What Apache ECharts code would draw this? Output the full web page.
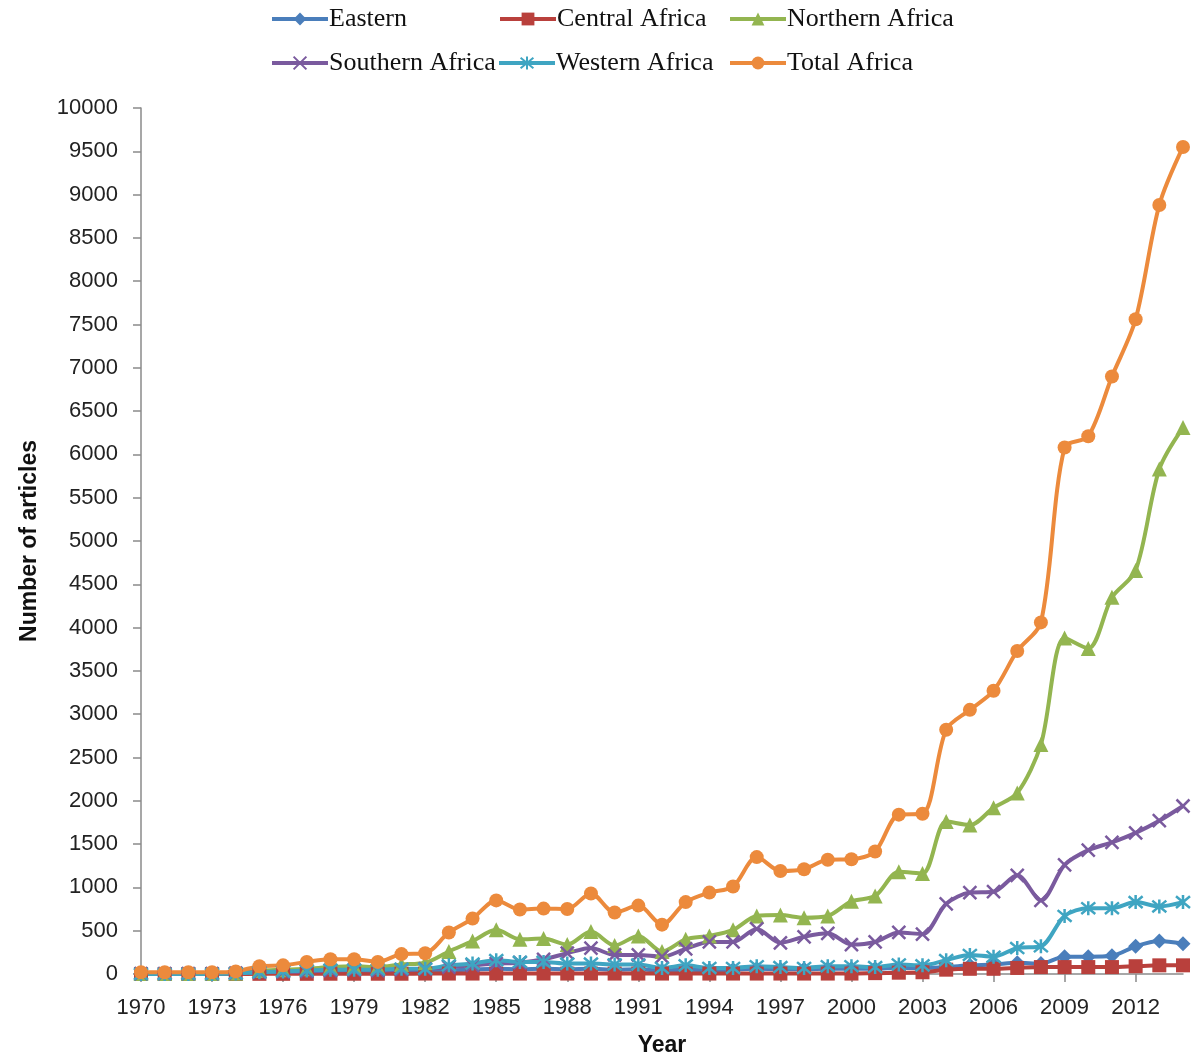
<!DOCTYPE html>
<html>
<head>
<meta charset="utf-8">
<script src="https://cdn.jsdelivr.net/npm/echarts@6/dist/echarts.min.js"></script>
<style>
  html, body { margin: 0; padding: 0; background: #fff; }
  #chart { width: 1193px; height: 1062px; }
</style>
</head>
<body>
<div id="chart"></div>
<script>
// articles per year by region, 1970-2014
const years = [];
for (let y = 1970; y <= 2014; y++) years.push(String(y));

const eastern = [5, 5, 5, 5, 10, 15, 20, 20, 25, 25, 25, 30, 30, 40, 50, 60, 55, 60, 55, 60,
  50, 55, 40, 50, 45, 50, 60, 55, 55, 60, 60, 60, 70, 70, 80, 100, 110, 130, 120, 200,
  200, 210, 320, 380, 350];
const central = [0, 0, 0, 0, 0, 2, 2, 2, 3, 3, 3, 3, 5, 5, 5, 5, 5, 5, 5, 5,
  5, 5, 5, 5, 5, 5, 5, 5, 5, 5, 5, 10, 15, 20, 50, 60, 60, 70, 80, 80,
  80, 80, 90, 100, 100];
const northern = [5, 5, 5, 5, 10, 40, 50, 60, 80, 90, 80, 110, 130, 260, 380, 510, 400, 410, 340, 490,
  330, 440, 260, 400, 440, 510, 670, 680, 650, 670, 840, 900, 1180, 1160, 1760, 1720, 1920, 2090, 2650, 3880,
  3760, 4350, 4660, 5830, 6310];
const southern = [5, 5, 5, 5, 10, 20, 25, 30, 40, 45, 40, 50, 60, 80, 100, 120, 130, 170, 240, 300,
  220, 220, 200, 290, 370, 370, 520, 360, 430, 470, 340, 370, 480, 460, 810, 940, 950, 1140, 850, 1260,
  1430, 1520, 1630, 1770, 1940];
const western = [0, 0, 0, 0, 5, 20, 30, 40, 50, 50, 50, 60, 60, 100, 120, 160, 140, 140, 120, 120,
  110, 110, 70, 100, 70, 70, 90, 80, 70, 90, 90, 80, 110, 100, 160, 220, 200, 300, 320, 670,
  760, 760, 830, 780, 830];
const total = [20, 20, 20, 20, 30, 90, 100, 140, 170, 170, 140, 230, 240, 480, 640, 850, 745, 755, 750, 930,
  710, 790, 570, 830, 940, 1010, 1350, 1190, 1210, 1320, 1325, 1415, 1840, 1850, 2820, 3050, 3270, 3730, 4060, 6080,
  6210, 6900, 7560, 8880, 9550];

const names = ["Eastern", "Central Africa", "Northern Africa", "Southern Africa", "Western Africa", "Total Africa"];
const colors = ["#4a7ebb", "#b9403c", "#93b550", "#7a5a9e", "#3fa5c2", "#ec8a3c"];

const X_PATH = "path://M0,0L10,10M10,0L0,10";
const STAR_PATH = "path://M0,0L10,10M10,0L0,10M5,-1L5,11";

const seriesDefs = [
  { data: eastern, symbol: "diamond", size: 15 },
  { data: central, symbol: "rect", size: 14 },
  { data: northern, symbol: "triangle", size: 15 },
  { data: southern, symbol: X_PATH, size: 13, stroke: true },
  { data: western, symbol: STAR_PATH, size: 14, stroke: true },
  { data: total, symbol: "circle", size: 14 },
];

const legendPos = [
  { left: 270, top: 6 }, { left: 498, top: 6 }, { left: 728, top: 6 },
  { left: 270, top: 50 }, { left: 497, top: 50 }, { left: 728, top: 50 },
];

const chart = echarts.init(document.getElementById("chart"));

chart.setOption({
  animation: false,
  color: colors,
  textStyle: { fontFamily: "Liberation Sans" },
  legend: names.map((n, i) => ({
    data: [n],
    left: legendPos[i].left,
    top: legendPos[i].top,
    itemWidth: 56,
    itemHeight: 16,
    itemGap: 2,
    padding: 0,
    lineStyle: { width: 4 },
    textStyle: { fontFamily: "Liberation Serif", fontSize: 26, color: "#111", padding: [0, 0, 0, -4] },
  })),
  grid: { left: 141, right: 10, top: 108, bottom: 87, containLabel: false },
  xAxis: {
    type: "category",
    data: years,
    boundaryGap: false,
    name: "Year",
    nameLocation: "middle",
    nameGap: 60,
    nameTextStyle: { fontSize: 23, fontWeight: "bold", color: "#111" },
    axisLine: { lineStyle: { color: "#8a8a8a", width: 1.5 } },
    axisTick: { interval: 2, length: 8, lineStyle: { color: "#8a8a8a", width: 1.5 } },
    axisLabel: { interval: 2, fontSize: 22, color: "#222", margin: 23 },
    splitLine: { show: false },
  },
  yAxis: {
    type: "value",
    min: 0,
    max: 10000,
    interval: 500,
    name: "Number of articles",
    nameLocation: "middle",
    nameGap: 100,
    nameTextStyle: { fontSize: 23, fontWeight: "bold", color: "#111" },
    axisLine: { show: true, lineStyle: { color: "#8a8a8a", width: 1.5 } },
    axisTick: { show: true, length: 8, lineStyle: { color: "#8a8a8a", width: 1.5 } },
    axisLabel: { fontSize: 22, color: "#222", margin: 23, formatter: v => String(v) },
    splitLine: { show: false },
  },
  series: seriesDefs.map((s, i) => ({
    name: names[i],
    type: "line",
    data: s.data,
    smooth: 0.3,
    symbol: s.symbol,
    symbolSize: s.size,
    showAllSymbol: true,
    lineStyle: { width: 4, color: colors[i] },
    itemStyle: s.stroke
      ? { color: colors[i], borderColor: colors[i], borderWidth: 2.5 }
      : { color: colors[i] },
  })),
});

window.addEventListener("resize", () => chart.resize());
</script>
</body>
</html>
